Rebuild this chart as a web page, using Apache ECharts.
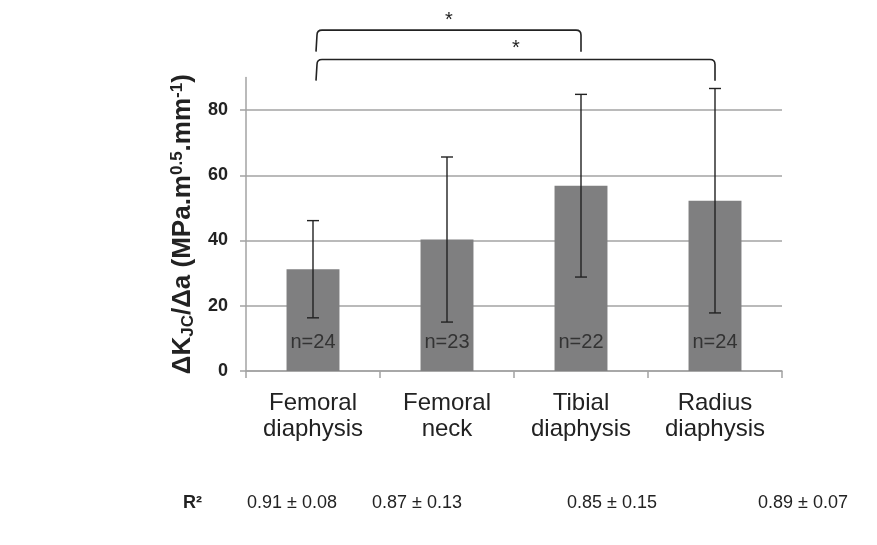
<!DOCTYPE html>
<html>
<head>
<meta charset="utf-8">
<script src="https://cdn.jsdelivr.net/npm/echarts@6/dist/echarts.min.js"></script>
<style>
  html, body { margin: 0; padding: 0; background: #fff; }
  #chart { width: 877px; height: 545px; }
</style>
</head>
<body>
<div id="chart"></div>
<script>
// Crack-growth resistance slope per bone site
const categories = ['Femoral\ndiaphysis', 'Femoral\nneck', 'Tibial\ndiaphysis', 'Radius\ndiaphysis'];
const meanValues = [31.2, 40.3, 56.8, 52.2];
const sdValues = [14.9, 25.3, 28.0, 34.4];
const sampleSizes = [24, 23, 22, 24];
const rSquaredLabels = ['0.91 ± 0.08', '0.87 ± 0.13', '0.85 ± 0.15', '0.89 ± 0.07'];
const yTicks = [0, 20, 40, 60, 80];
// significance brackets: [from category, to category, top value, leg end value]
const bracketFrom = [0, 0];
const bracketTo = [2, 3];
const bracketTop = [104.5, 95.5];
const bracketLegEnd = [97.9, 89.0];
const bracketStarValue = [107.3, 99.0];

const FONT = '"Liberation Sans", Arial, sans-serif';
const GRID_COLOR = '#a3a3a3';
const INK = '#222222';

const errorData = meanValues.map((m, i) => [i, m - sdValues[i], m + sdValues[i]]);
const bracketData = bracketFrom.map((f, i) => [f, bracketTo[i], bracketTop[i], bracketLegEnd[i], bracketStarValue[i]]);

const chart = echarts.init(document.getElementById('chart'), null, { renderer: 'canvas' });

const option = {
  animation: false,
  backgroundColor: '#ffffff',
  grid: { left: 246, right: 95, top: 77.4, bottom: 174, containLabel: false },
  xAxis: {
    type: 'category',
    data: categories,
    axisLine: { lineStyle: { color: GRID_COLOR, width: 1.5 } },
    axisTick: { show: true, length: 7, lineStyle: { color: GRID_COLOR, width: 1.5 } },
    axisLabel: {
      color: INK, fontFamily: FONT, fontSize: 24, lineHeight: 25.5, margin: 20
    }
  },
  yAxis: {
    type: 'value',
    min: 0,
    max: 90,
    interval: 20,
    name: '{b|ΔK}{sub|JC}{b|/Δa (MPa.m}{sup|0.5}{b|.mm}{sup|-1}{b|)}',
    nameLocation: 'middle',
    nameRotate: 90,
    nameGap: 36,
    nameTextStyle: {
      rich: {
        b: { fontFamily: FONT, fontWeight: 'bold', fontSize: 26, color: INK },
        sub: { fontFamily: FONT, fontWeight: 'bold', fontSize: 17, color: INK, padding: [11, 0, 0, 0] },
        sup: { fontFamily: FONT, fontWeight: 'bold', fontSize: 17, color: INK, padding: [0, 0, 11, 0] }
      }
    },
    axisLine: { show: true, lineStyle: { color: GRID_COLOR, width: 1.5 } },
    axisTick: { show: true, length: 6, customValues: yTicks, lineStyle: { color: GRID_COLOR, width: 1.5 } },
    axisLabel: {
      customValues: yTicks,
      color: INK, fontFamily: FONT, fontWeight: 'bold', fontSize: 18, margin: 18
    },
    splitLine: {
      show: true,
      lineStyle: { color: [GRID_COLOR, GRID_COLOR, GRID_COLOR, GRID_COLOR, GRID_COLOR, 'rgba(0,0,0,0)'], width: 1.5 }
    }
  },
  series: [
    {
      name: 'mean',
      type: 'bar',
      data: meanValues,
      barWidth: '39.5%',
      itemStyle: { color: '#7f7f80' },
      label: {
        show: true,
        position: 'insideBottom',
        distance: 19,
        formatter: p => 'n=' + sampleSizes[p.dataIndex],
        color: '#333333',
        fontFamily: FONT,
        fontSize: 20
      },
      z: 2
    },
    {
      name: 'sd',
      type: 'custom',
      data: errorData,
      z: 3,
      renderItem: (params, api) => {
        const idx = api.value(0);
        const lo = api.coord([idx, api.value(1)]);
        const hi = api.coord([idx, api.value(2)]);
        const cap = 6;
        const style = { stroke: INK, lineWidth: 1.4, fill: null };
        return {
          type: 'group',
          children: [
            { type: 'line', shape: { x1: hi[0], y1: hi[1], x2: lo[0], y2: lo[1] }, style },
            { type: 'line', shape: { x1: hi[0] - cap, y1: hi[1], x2: hi[0] + cap, y2: hi[1] }, style },
            { type: 'line', shape: { x1: lo[0] - cap, y1: lo[1], x2: lo[0] + cap, y2: lo[1] }, style }
          ]
        };
      }
    },
    {
      name: 'significance',
      type: 'custom',
      data: bracketData,
      clip: false,
      z: 4,
      renderItem: (params, api) => {
        const a = api.coord([api.value(0), api.value(2)]);
        const b = api.coord([api.value(1), api.value(2)]);
        const legY = api.coord([api.value(0), api.value(3)])[1];
        const starY = api.coord([api.value(0), api.value(4)])[1];
        const x1 = a[0] + 4, x2 = b[0], top = a[1], r = 5;
        const path = `M${x1 - 1},${legY} L${x1},${top + r} Q${x1},${top} ${x1 + r},${top} ` +
                     `L${x2 - r},${top} Q${x2},${top} ${x2},${top + r} L${x2},${legY}`;
        return {
          type: 'group',
          children: [
            { type: 'path', shape: { pathData: path }, style: { stroke: INK, lineWidth: 1.6, fill: null } },
            {
              type: 'text',
              style: {
                text: '*', x: (x1 + x2) / 2, y: starY,
                fill: INK, font: '20px ' + FONT, align: 'center', verticalAlign: 'middle'
              }
            }
          ]
        };
      }
    }
  ],
  graphic: [
    {
      type: 'text',
      left: 183, top: 494,
      style: { text: 'R²', fill: INK, font: 'bold 18px ' + FONT }
    }
  ].concat(rSquaredLabels.map((t, i) => ({
    type: 'text',
    x: [292, 417, 612, 803][i],
    y: 503,
    style: { text: t, fill: INK, font: '18px ' + FONT, align: 'center', verticalAlign: 'middle' }
  })))
};

chart.setOption(option);
</script>
</body>
</html>
